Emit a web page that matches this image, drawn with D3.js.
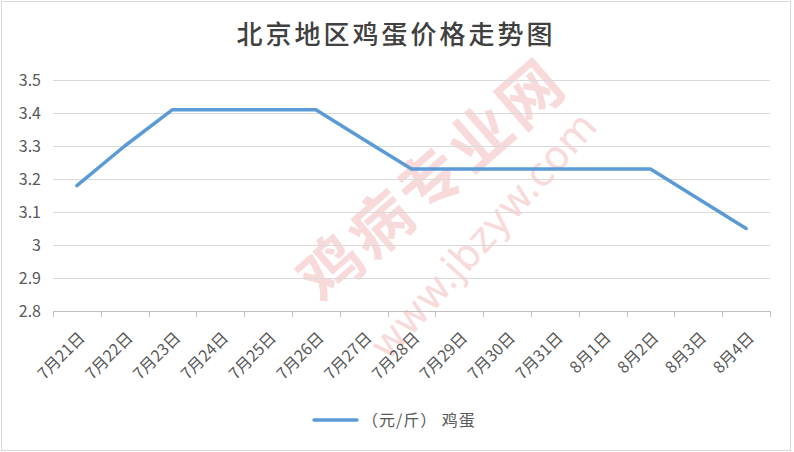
<!DOCTYPE html>
<html><head><meta charset="utf-8">
<script src="https://cdn.jsdelivr.net/npm/d3@7"></script>
<style>
html,body{margin:0;padding:0;background:#fff;}
svg{display:block;font-family:"Noto Sans CJK SC","Microsoft YaHei",sans-serif;}
</style></head>
<body>
<svg id="chart" width="794" height="452"></svg>
<script>
const categories = ["7月21日","7月22日","7月23日","7月24日","7月25日","7月26日","7月27日","7月28日","7月29日","7月30日","7月31日","8月1日","8月2日","8月3日","8月4日"];
const prices = [3.18,3.30,3.41,3.41,3.41,3.41,3.32,3.23,3.23,3.23,3.23,3.23,3.23,3.14,3.05];
const yTicks = [2.8,2.9,3.0,3.1,3.2,3.3,3.4,3.5];
const seriesName = "（元/斤） 鸡蛋";
const title = "北京地区鸡蛋价格走势图";

const svg = d3.select("#chart");
const W = 794, H = 452;
const m = {left:53, right:24, top:80, bottom:141};

// outer border
svg.append("rect").attr("x",1.5).attr("y",1.5).attr("width",789).attr("height",449)
  .attr("fill","#fff").attr("stroke","#d9d9d9").attr("stroke-width",1);

// watermark
const wm = svg.append("g").attr("pointer-events","none");
wm.append("text").attr("transform","translate(322,305) rotate(-41)")
  .attr("font-size",62).attr("font-weight",700).attr("fill","#f4b6b6").attr("opacity",0.5)
  .attr("letter-spacing",4).text("鸡病专业网");
wm.append("text").attr("transform","translate(388,362) rotate(-48)")
  .attr("font-size",40).attr("fill","#f4b6b6").attr("opacity",0.5)
  .attr("font-family","DejaVu Sans, sans-serif").text("www.jbzyw.com");

const x = d3.scaleBand().domain(categories).range([m.left, W - m.right]).paddingInner(0).paddingOuter(0);
const y = d3.scaleLinear().domain([2.8,3.5]).range([311,80]);

// gridlines
svg.append("g").selectAll("line").data(yTicks.slice(1)).join("line")
  .attr("x1",m.left).attr("x2",770).attr("y1",d=>Math.round(y(d))+0.5).attr("y2",d=>Math.round(y(d))+0.5)
  .attr("stroke","#d9d9d9").attr("stroke-width",1);

// y axis labels
const yAxis = d3.axisLeft(y).tickValues(yTicks).tickSize(0).tickPadding(12)
  .tickFormat(d=>d3.format("")(Math.round(d*10)/10));
const ya = svg.append("g").attr("transform",`translate(${m.left},0)`).call(yAxis);
ya.select(".domain").remove();
ya.selectAll("text").attr("font-size",16).attr("fill","#595959").attr("font-family","Noto Sans CJK SC, sans-serif");

// x axis
const xAxis = d3.axisBottom(x).tickSize(0).tickFormat("");
const xa = svg.append("g").attr("transform","translate(0,311.5)").call(xAxis);
xa.select(".domain").remove();
svg.append("line").attr("x1",m.left).attr("x2",770).attr("y1",311.5).attr("y2",311.5)
  .attr("stroke","#bfbfbf").attr("stroke-width",1);
const tickPos = categories.map(c=>x(c)).concat([x(categories[categories.length-1])+x.bandwidth()]);
svg.append("g").selectAll("line").data(tickPos).join("line")
  .attr("x1",d=>Math.round(d)+0.5).attr("x2",d=>Math.round(d)+0.5).attr("y1",311).attr("y2",317)
  .attr("stroke","#bfbfbf").attr("stroke-width",1);

svg.append("g").selectAll("text").data(categories).join("text")
  .attr("transform",d=>`translate(${x(d)+x.bandwidth()/2+9},339) rotate(-45)`)
  .attr("text-anchor","end").attr("font-size",16).attr("fill","#595959").text(d=>d);

// line
const line = d3.line().x((d,i)=>x(categories[i])+x.bandwidth()/2).y(d=>y(d));
svg.append("path").datum(prices).attr("d",line).attr("fill","none")
  .attr("stroke","#5b9bd5").attr("stroke-width",3.5).attr("stroke-linecap","round").attr("stroke-linejoin","round");

// title
svg.append("text").attr("x",396).attr("y",44).attr("text-anchor","middle")
  .attr("font-size",26).attr("font-weight",500).attr("letter-spacing",3).attr("fill","#404040").text(title);

// legend
svg.append("line").attr("x1",314).attr("x2",357).attr("y1",420).attr("y2",420)
  .attr("stroke","#5b9bd5").attr("stroke-width",3.5).attr("stroke-linecap","round");
svg.append("text").attr("x",362).attr("y",426).attr("font-size",16).attr("letter-spacing",1).attr("fill","#595959").text(seriesName);
</script>
</body></html>
